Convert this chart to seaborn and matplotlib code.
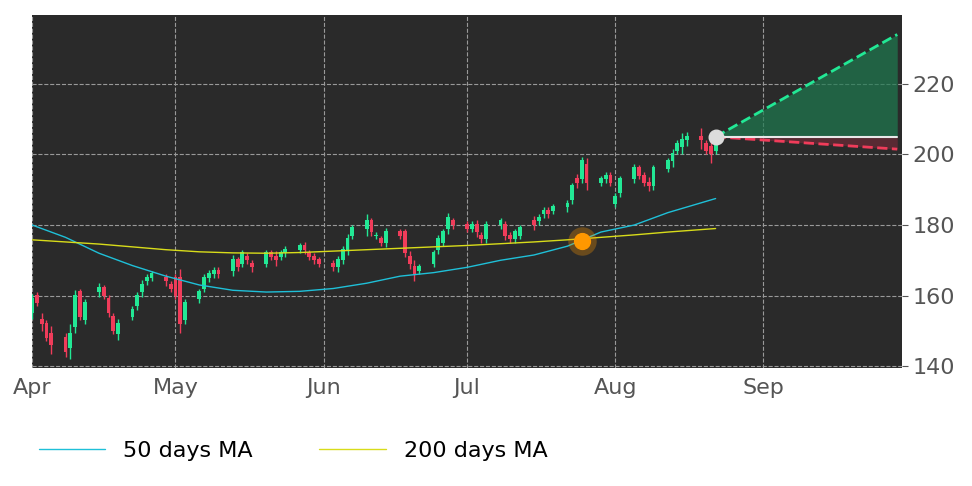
import numpy as np
import pandas as pd
import matplotlib
matplotlib.use("Agg")
import matplotlib.pyplot as plt
import matplotlib.dates as mdates
import seaborn as sns

# daily candles, Apr 1 - Aug 22
closes = [159, 158, 152, 148, 146, 144, 149, 160, 154, 158, 162, 160, 155, 150, 152, 156, 160, 163, 165, 166, 164, 162,
          160, 152, 158, 161, 165, 166, 167, 166, 170, 168, 172, 170, 168, 172, 171, 170, 172, 173, 174, 173, 171, 170, 169,
          168, 170, 173, 176, 179, 181, 178, 177, 175, 178, 177, 172, 169, 166, 168, 172, 176, 178, 182, 180,
          179, 180, 178, 176, 180, 181, 177, 176, 178, 179, 180, 182, 184, 183, 185, 186, 191, 192, 198, 192, 193, 194, 192,
          188, 193, 196, 194, 192, 191, 196, 198, 200, 203, 204, 205, 204, 201, 200, 204]
opens = [155, 160, 153, 152, 149, 148, 145, 151, 161, 153, 161, 162, 159, 154, 149, 154, 157, 161, 164, 165, 165, 163,
         165, 165, 153, 159, 162, 165, 166, 167, 167, 170, 169, 171, 169, 169, 172, 171, 171, 172, 173, 174, 172, 171, 170,
         169, 168, 170, 173, 177, 179, 181, 177, 176, 175, 178, 178, 171, 168, 167, 169, 173, 175, 179, 181,
         180, 179, 180, 177, 176, 180, 180, 177, 176, 177, 181, 181, 183, 184, 184, 185, 187, 193, 193, 197, 192, 193, 194,
         186, 189, 193, 196, 194, 192, 191, 196, 198, 201, 202, 204, 205, 203, 202, 201]
wick = [1.5, 1.0, 2.0, 1.0, 2.5, 1.5, 3.0, 1.5, 1.0, 1.0, 1.5, 1.0, 1.2, 1.0, 1.5, 1.0, 1.0, 1.5, 1.0, 1.0, 1.2, 1.0,
        1.0, 2.5, 1.0, 1.0, 1.0, 1.2, 1.0, 1.0, 1.5, 1.0, 1.0, 1.0, 1.2, 1.0, 1.0, 1.5, 1.0, 1.0, 1.0, 1.2, 1.0, 1.0, 1.0,
        1.0, 1.2, 1.0, 1.5, 1.0, 2.0, 1.0, 1.0, 1.0, 1.2, 1.0, 1.0, 1.5, 2.0, 1.0, 1.0, 1.2, 1.0, 1.5, 1.0,
        1.0, 1.0, 1.5, 1.0, 1.0, 1.0, 1.2, 1.0, 1.0, 1.0, 1.5, 1.0, 1.0, 1.0, 1.0, 1.2, 1.0, 1.5, 1.2, 2.0, 1.0, 1.0, 1.0,
        1.0, 1.0, 1.2, 1.0, 1.0, 1.5, 1.0, 1.0, 1.5, 1.0, 2.0, 1.5, 2.5, 1.0, 2.5, 1.0]

ma_dates = ["2024-04-01", "2024-04-08", "2024-04-15", "2024-04-22", "2024-04-29", "2024-05-06", "2024-05-13",
            "2024-05-20", "2024-05-27", "2024-06-03", "2024-06-10", "2024-06-17", "2024-06-24", "2024-07-01",
            "2024-07-08", "2024-07-15", "2024-07-22", "2024-07-29", "2024-08-05", "2024-08-12", "2024-08-22"]
ma50 = [180, 176.5, 172, 168.5, 165.5, 163, 161.5, 161, 161.2, 162, 163.5, 165.5, 166.5, 168, 170, 171.5, 174, 178,
        180, 183.5, 187.5]
ma200 = [175.8, 175.2, 174.6, 173.8, 173, 172.4, 172.1, 172, 172.2, 172.6, 173, 173.4, 173.8, 174.2, 174.7, 175.2,
         175.8, 176.5, 177.2, 178, 179]

last_date = "2024-08-22"
last_price = 205
proj_date = "2024-09-29"
proj_up = 234
proj_down = 201.5
cross_date = "2024-07-25"
cross_price = 175.5

dates = pd.bdate_range("2024-04-01", periods=len(closes))
o = np.array(opens, float)
c = np.array(closes, float)
hi = np.maximum(o, c) + np.array(wick)
lo = np.minimum(o, c) - np.array(wick)

sns.set_style("dark")
fig = plt.figure(figsize=(9.72, 4.86), dpi=100)
ax = fig.add_axes([0.033, 0.243, 0.895, 0.726])
ax.set_facecolor("#2a2a2a")

up_col, dn_col = "#22e895", "#f03c5a"
cols = [up_col if cc >= oo else dn_col for oo, cc in zip(o, c)]
ax.vlines(dates, lo, hi, colors=cols, linewidth=1)
ax.bar(dates, np.abs(c - o) + 0.3, bottom=np.minimum(o, c), width=0.8, color=cols, edgecolor="none", linewidth=0)

ma = pd.DataFrame({"date": pd.to_datetime(ma_dates), "ma50": ma50, "ma200": ma200})
sns.lineplot(data=ma, x="date", y="ma50", ax=ax, color="#1fc0d8", linewidth=1, label="50 days MA")
sns.lineplot(data=ma, x="date", y="ma200", ax=ax, color="#d8dc1a", linewidth=1, label="200 days MA")

ld, pd_ = pd.Timestamp(last_date), pd.Timestamp(proj_date)
ax.fill_between([ld, pd_], [last_price, last_price], [last_price, proj_up], color="#1e7a50", alpha=0.7, lw=0)
ax.fill_between([ld, pd_], [last_price, last_price], [last_price, proj_down], color="#7a2a3a", alpha=0.6, lw=0)
ax.plot([ld, pd_], [last_price, proj_up], ls="--", color="#22e895", lw=2)
ax.plot([ld, pd_], [last_price, proj_down], ls="--", color="#f03c5a", lw=2)
ax.plot([ld, pd_], [last_price, last_price], color="#e8e8e8", lw=1.5)
ax.scatter([ld], [last_price], s=110, color="#dcdcdc", zorder=5)
ax.scatter([pd.Timestamp(cross_date)], [cross_price], s=420, color="#ff9800", alpha=0.3, zorder=5, lw=0)
ax.scatter([pd.Timestamp(cross_date)], [cross_price], s=130, color="#ff9800", zorder=6)

ax.set_xlim(pd.Timestamp("2024-04-01"), pd.Timestamp("2024-09-30"))
ax.set_ylim(139.5, 239.5)
ax.yaxis.tick_right()
ax.set_yticks([140, 160, 180, 200, 220])
ax.xaxis.set_major_locator(mdates.MonthLocator())
ax.xaxis.set_major_formatter(mdates.DateFormatter("%b"))
ax.tick_params(labelsize=16, colors="#555555", length=4)
ax.grid(True, ls="--", color="#999999", lw=0.8)
ax.set_xlabel("")
ax.set_ylabel("")
for s in ax.spines.values():
    s.set_visible(False)

leg = ax.legend(loc="upper center", bbox_to_anchor=(0.3, -0.15), ncol=2, frameon=False, fontsize=16,
                handlelength=3, columnspacing=3)
for t in leg.get_texts():
    t.set_color("black")
fig.savefig("out.png")
